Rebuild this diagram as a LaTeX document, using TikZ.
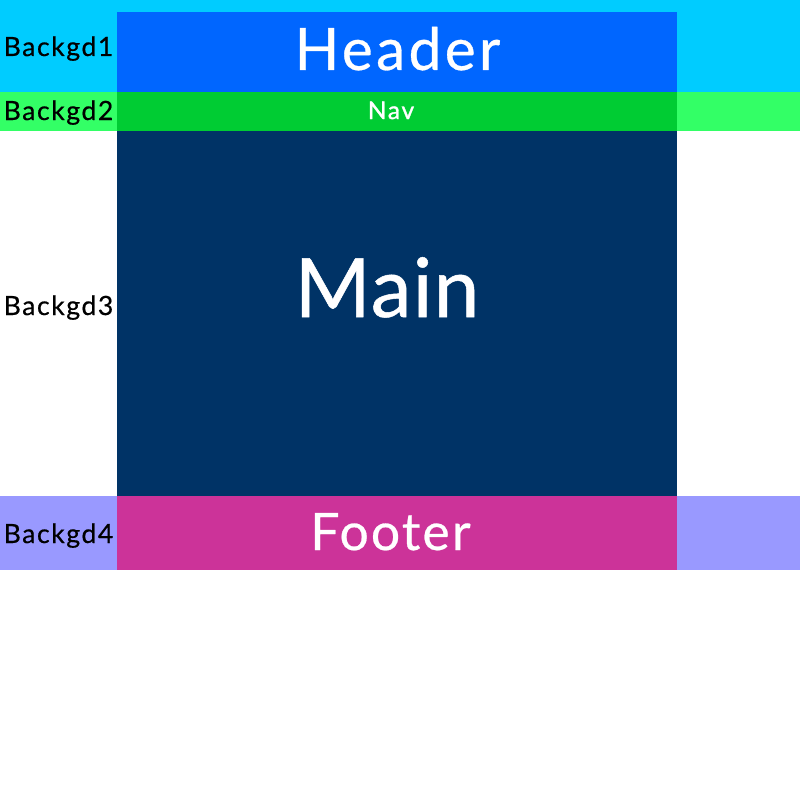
\documentclass[tikz,border=0pt]{standalone}
\usepackage{fontspec}
\setmainfont{Lato}
\definecolor{bgone}{HTML}{00CCFF}
\definecolor{headerc}{HTML}{0066FF}
\definecolor{bgtwo}{HTML}{33FF66}
\definecolor{navc}{HTML}{00CC33}
\definecolor{mainc}{HTML}{003366}
\definecolor{bgfour}{HTML}{9999FF}
\definecolor{footerc}{HTML}{CC3399}
\tikzset{
  lbl/.style={anchor=base, inner sep=0pt, text=black, font=\fontsize{26.5}{26.5}\selectfont\addfontfeature{LetterSpace=6,FakeBold=0.6}},
  wlbl/.style={anchor=base, inner sep=0pt, text=white},
}
\begin{document}
\begin{tikzpicture}[x=1pt,y=-1pt]
\useasboundingbox (0,0) rectangle (800,800);
\fill[white] (0,0) rectangle (800,800);
% backgrounds
\fill[bgone] (0,0) rectangle (800,92);
\fill[bgtwo] (0,92) rectangle (800,131);
\fill[bgfour] (0,496) rectangle (800,570);
% blocks
\fill[headerc] (117,12) rectangle (677,92);
\fill[navc] (117,92) rectangle (677,131);
\fill[mainc] (117,131) rectangle (677,496);
\fill[footerc] (117,496) rectangle (677,570);
% texts
\node[wlbl, font=\fontsize{58.6}{58.6}\selectfont\addfontfeature{LetterSpace=5.7,FakeBold=0.5}] (header) at (397.5,70) {Header};
\node[wlbl, font=\fontsize{24.5}{24.5}\selectfont\addfontfeature{LetterSpace=7,FakeBold=1.2}] (nav) at (391,119) {Nav};
\node[wlbl, font=\fontsize{82}{82}\selectfont\addfontfeature{LetterSpace=1.5,FakeBold=0.6}] (main) at (387,317) {Main};
\node[wlbl, font=\fontsize{51.6}{51.6}\selectfont\addfontfeature{LetterSpace=4.2,FakeBold=0.5}] (footer) at (390.5,550) {Footer};
\node[lbl] (b1) at (58.5,56) {Backgd1};
\node[lbl] (b2) at (58.5,120) {Backgd2};
\node[lbl] (b3) at (58.5,315) {Backgd3};
\node[lbl] (b4) at (58.5,543) {Backgd4};
\end{tikzpicture}
\end{document}
